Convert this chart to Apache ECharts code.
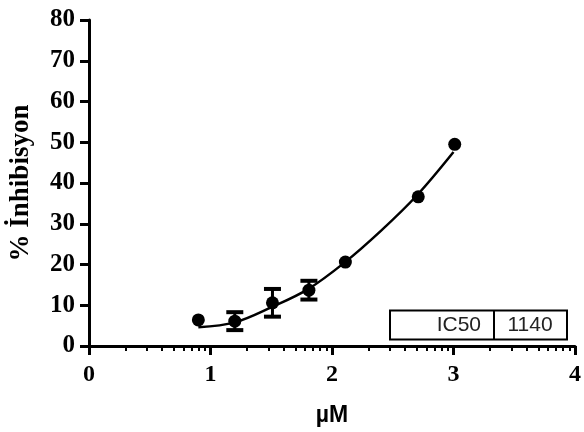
<!DOCTYPE html>
<html>
<head>
<meta charset="utf-8">
<script src="https://cdn.jsdelivr.net/npm/echarts@6/dist/echarts.min.js"></script>
<style>
  html, body { margin: 0; padding: 0; background: #fff; }
  #chart { width: 584px; height: 432px; }
</style>
</head>
<body>
<div id="chart"></div>
<script>
// log10 concentration (µM) of each measured dose
const logDose = [0.90, 1.20, 1.51, 1.81, 2.11, 2.71, 3.01];
// mean % inhibition at each dose
const inhibition = [6.4, 6.1, 10.6, 13.7, 20.6, 36.6, 49.5];
// standard deviation (0 where the bar hides inside the marker)
const inhibitionSD = [0, 2.2, 3.4, 2.3, 0, 0, 0];

// fitted dose-response curve, sampled along log dose
const fitX = [0.90, 1.20, 1.50, 1.80, 2.10, 2.40, 2.70, 3.00];
const fitY = [4.6, 5.8, 9.5, 13.9, 20.4, 28.2, 37.0, 47.6];

// axis ticks
const xTicks = [0, 1, 2, 3, 4];
const yMax = 80, yStep = 10;
const minorMultipliers = [2, 3, 4, 5, 6, 7, 8, 9];

// summary table
const tableLabel = 'IC50';
const tableValue = '1140';

const minorTickValues = [];
for (let d = 0; d < 4; d++) {
  minorMultipliers.forEach(m => minorTickValues.push(d + Math.log10(m)));
}

const serif = '"Liberation Serif", "Times New Roman", serif';
const sans = '"Liberation Sans", Arial, sans-serif';

const chart = echarts.init(document.getElementById('chart'));

const option = {
  backgroundColor: '#ffffff',
  animation: false,
  grid: { left: 88, right: 5, top: 20, bottom: 84, containLabel: false },
  xAxis: [
    {
      type: 'value',
      min: xTicks[0],
      max: xTicks[xTicks.length - 1],
      interval: 1,
      position: 'bottom',
      name: 'µM',
      nameLocation: 'middle',
      nameGap: 58,
      nameTextStyle: { fontFamily: sans, fontWeight: 'bold', fontSize: 23, color: '#000' },
      axisLine: { onZero: false, lineStyle: { color: '#000', width: 3 } },
      axisTick: { show: true, inside: false, length: 9, lineStyle: { color: '#000', width: 3 } },
      axisLabel: { fontFamily: serif, fontWeight: 'bold', fontSize: 24, color: '#000', margin: 17 },
      splitLine: { show: false }
    },
    {
      // log-spaced minor ticks between decades
      type: 'value',
      min: xTicks[0],
      max: xTicks[xTicks.length - 1],
      position: 'bottom',
      offset: 0,
      axisLine: { show: false, onZero: false },
      axisTick: { show: true, length: 5, customValues: minorTickValues, lineStyle: { color: '#000', width: 2 } },
      axisLabel: { show: false },
      splitLine: { show: false }
    }
  ],
  yAxis: {
    type: 'value',
    min: 0,
    max: yMax,
    interval: yStep,
    name: '% İnhibisyon',
    nameLocation: 'middle',
    nameRotate: 90,
    nameGap: 54,
    nameTextStyle: { fontFamily: serif, fontWeight: 'bold', fontSize: 27, color: '#000' },
    axisLine: { show: true, onZero: false, lineStyle: { color: '#000', width: 3 } },
    axisTick: { show: true, length: 9, lineStyle: { color: '#000', width: 3 } },
    axisLabel: { fontFamily: serif, fontWeight: 'bold', fontSize: 25, color: '#000', margin: 14 },
    splitLine: { show: false }
  },
  series: [
    {
      name: 'fit',
      type: 'line',
      data: fitX.map((x, i) => [x, fitY[i]]),
      smooth: 0.35,
      showSymbol: false,
      lineStyle: { color: '#000', width: 2.5 },
      z: 2
    },
    {
      name: 'sd',
      type: 'custom',
      data: logDose.map((x, i) => [x, inhibition[i] - inhibitionSD[i], inhibition[i] + inhibitionSD[i]]),
      renderItem: function (params, api) {
        const lo = api.value(1), hi = api.value(2);
        if (hi - lo <= 0) return null;
        const pLo = api.coord([api.value(0), lo]);
        const pHi = api.coord([api.value(0), hi]);
        const half = 8.5;
        const stem = { stroke: '#000', lineWidth: 3 };
        const cap = { stroke: '#000', lineWidth: 4 };
        return {
          type: 'group',
          children: [
            { type: 'line', shape: { x1: pLo[0], y1: pLo[1], x2: pHi[0], y2: pHi[1] }, style: stem },
            { type: 'line', shape: { x1: pLo[0] - half, y1: pLo[1], x2: pLo[0] + half, y2: pLo[1] }, style: cap },
            { type: 'line', shape: { x1: pHi[0] - half, y1: pHi[1], x2: pHi[0] + half, y2: pHi[1] }, style: cap }
          ]
        };
      },
      z: 3
    },
    {
      name: 'mean',
      type: 'scatter',
      data: logDose.map((x, i) => [x, inhibition[i]]),
      symbol: 'circle',
      symbolSize: 13,
      itemStyle: { color: '#000', opacity: 1 },
      z: 4
    }
  ],
  graphic: [
    {
      type: 'group',
      left: 389,
      top: 308,
      children: [
        { type: 'rect', shape: { x: 0, y: 0, width: 177, height: 29 }, style: { fill: '#fff', stroke: '#000', lineWidth: 2 } },
        { type: 'line', shape: { x1: 104, y1: 0, x2: 104, y2: 29 }, style: { stroke: '#000', lineWidth: 2 } },
        { type: 'text', x: 91, y: 15, style: { text: tableLabel, fontFamily: sans, fontSize: 21, fill: '#222', align: 'right', verticalAlign: 'middle' } },
        { type: 'text', x: 140, y: 15, style: { text: tableValue, fontFamily: sans, fontSize: 21, fill: '#222', align: 'center', verticalAlign: 'middle' } }
      ]
    }
  ]
};

chart.setOption(option);
</script>
</body>
</html>
